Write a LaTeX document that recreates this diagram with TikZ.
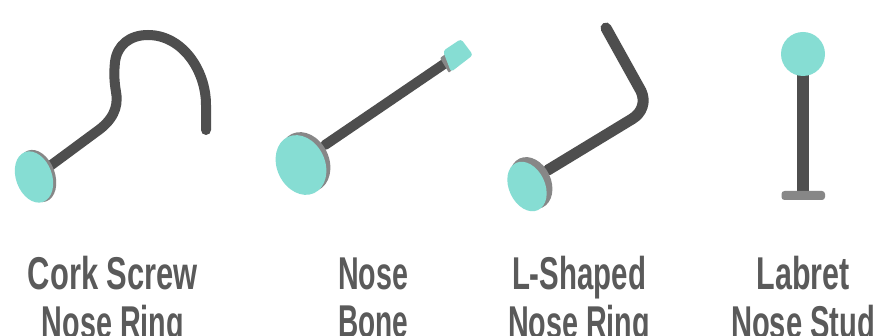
\documentclass[tikz,border=0pt]{standalone}
\usepackage{fontspec}
\usepackage{graphicx}
\setmainfont{Liberation Sans}
\newcommand{\lblfit}[2]{\resizebox{#1}{\height}{\fontsize{46}{46}\selectfont\bfseries #2}}
\definecolor{teal1}{HTML}{86DDD3}
\definecolor{dark1}{HTML}{4E4E4E}
\definecolor{grey1}{HTML}{878787}
\definecolor{txt1}{HTML}{5A5A5A}
\tikzset{
  stem/.style={draw=dark1,line width=#1,line cap=round,line join=round},
  stem/.default=10pt,
  facegrey/.style={fill=grey1,draw=none},
  faceteal/.style={fill=teal1,draw=none},
  lbl/.style={inner sep=0pt,anchor=base,text=txt1}
}
\begin{document}
\begin{tikzpicture}[x=1pt,y=-1pt]
\useasboundingbox (0,0) rectangle (875,336);
\clip (0,0) rectangle (875,336);
\fill[white] (0,0) rectangle (875,336);
% Cork screw
\draw[stem] (50,166) -- (96,132) .. controls (112,121) and (119,108) .. (116,92)
  .. controls (114,80) and (114,72) .. (115,62)
  .. controls (117,45) and (130,35) .. (148,35)
  .. controls (182,35) and (206,70) .. (206,105) -- (206,130);
\fill[facegrey,rotate around={20:(37,176)}] (37,176) ellipse [x radius=18,y radius=27];
\fill[faceteal,rotate around={20:(34,177)}] (34,177) ellipse [x radius=18,y radius=26.5];
% Nose bone
\draw[stem] (325,145) -- (447,62);
\fill[facegrey,rotate around={25:(305,162)}] (305,162) ellipse [x radius=24,y radius=31];
\fill[faceteal,rotate around={25:(301,165)}] (301,165) ellipse [x radius=24,y radius=31];
\fill[grey1,rounded corners=1pt] (440,58) -- (447,53) -- (455,66) -- (449,73) -- cycle;
\fill[teal1,rounded corners=3pt] (443,51) -- (461,39) -- (473,55) -- (451,72) -- cycle;
% L-shaped
\draw[stem=11pt] (606,28) -- (641,91) .. controls (646,102) and (642,113) .. (632,119) -- (548,170);
\fill[facegrey,rotate around={25:(531,183)}] (531,183) ellipse [x radius=20,y radius=27];
\fill[faceteal,rotate around={25:(527,186.5)}] (527,186.5) ellipse [x radius=18,y radius=26];
% Labret
\draw[draw=dark1,line width=12.5pt] (803,70) -- (803,193);
\fill[grey1,rounded corners=3pt] (781.5,191) rectangle (825,200);
\fill[teal1] (803,54) circle (22);
% Labels
\node[lbl] (cork1) at (113,290) {\lblfit{170pt}{Cork Screw}};
\node[lbl] (cork2) at (113,338) {\lblfit{142pt}{Nose Ring}};
\node[lbl] (bone1) at (373,290) {\lblfit{70pt}{Nose}};
\node[lbl] (bone2) at (373,338) {\lblfit{70pt}{Bone}};
\node[lbl] (l1) at (579,290) {\lblfit{134pt}{L-Shaped}};
\node[lbl] (l2) at (579,338) {\lblfit{142pt}{Nose Ring}};
\node[lbl] (lab1) at (803,290) {\lblfit{93pt}{Labret}};
\node[lbl] (lab2) at (803,338) {\lblfit{144pt}{Nose Stud}};
\end{tikzpicture}
\end{document}
